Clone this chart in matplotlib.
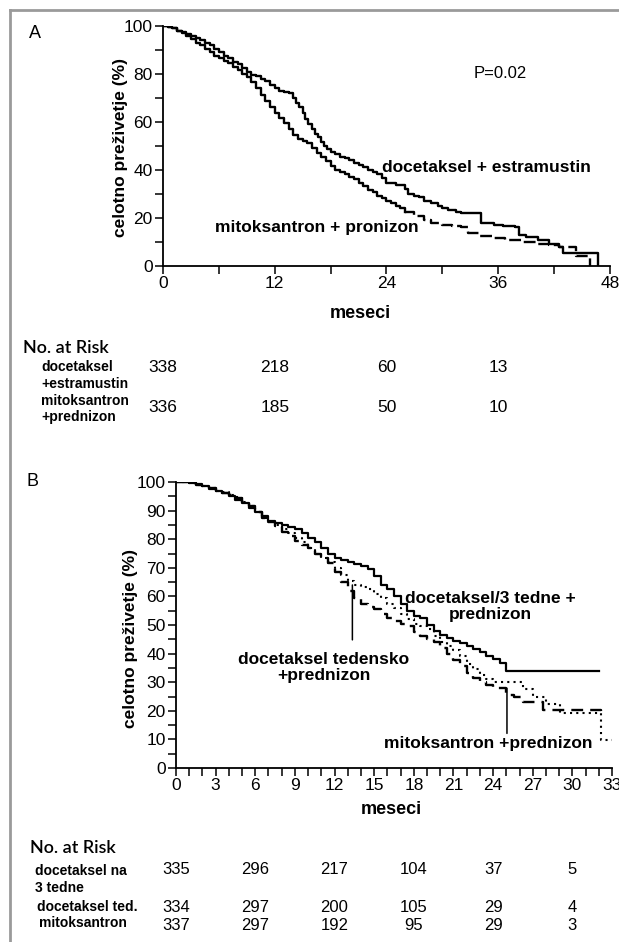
import matplotlib
matplotlib.use('Agg')
import matplotlib.pyplot as plt
import matplotlib.transforms as mtransforms
from matplotlib.lines import Line2D
from matplotlib.ticker import MultipleLocator

# ---- panel A: months and % alive ----
de_t = [0, 0.5, 1, 1.5, 2, 2.5, 3, 3.5, 4, 4.5, 5, 5.5, 6, 6.5, 7, 7.5, 8, 8.5, 9, 9.5,
        10, 10.5, 11, 11.5, 12, 12.5, 13, 13.5, 14, 14.3, 14.6, 15, 15.3, 15.6, 16, 16.3, 16.6, 17, 17.3, 17.6,
        18, 18.5, 19, 19.5, 20, 20.5, 21, 21.5, 22, 22.5, 23, 23.5, 24, 25, 25.5, 26, 26.3, 27, 27.5, 28,
        28.8, 29.5, 30, 30.6, 31.5, 32, 33.1, 34.2, 35.5, 36.5, 37.8, 38.2, 39, 40.3, 41.5, 42.5, 42.9, 46.7]
de_s = [100, 99.5, 99, 98, 97.5, 96.5, 95.8, 95, 94, 93, 92, 90.5, 89, 87.5, 86.5, 85, 84, 82.5, 81, 79.5,
        79, 78, 77, 75.5, 74, 73, 72.5, 72, 70, 68, 66, 63.5, 61, 59, 57, 55, 53.5, 51.5, 50, 48.5,
        47.5, 46.5, 45.5, 45, 44, 43, 42, 41, 40, 39, 38, 36.5, 34.5, 33.8, 33.5, 32, 30, 29, 28.5, 27,
        26, 25, 24, 23, 22.5, 22, 21.8, 17.6, 17, 16.5, 16, 12.7, 12, 10.5, 9, 7.7, 5.2, 0]
mp_t = [0, 0.5, 1, 1.5, 2, 2.5, 3, 3.5, 4, 4.5, 5, 5.5, 6, 6.5, 7, 7.5, 8, 8.5, 9, 9.5,
        10, 10.5, 11, 11.5, 12, 12.5, 13, 13.5, 14, 14.5, 15, 15.5, 16, 16.5, 17, 17.5, 18, 18.5, 19, 19.5,
        20, 20.5, 21, 21.5, 22, 22.5, 23, 23.5, 24, 24.5, 25, 25.5, 26,
        27, 28, 28.8, 30, 31, 32, 32.7, 34, 35.5, 36.7, 38.5, 40.3, 41.5, 42.5, 44.4, 45.8]
mp_s = [100, 99.5, 99, 98, 97, 96, 94.5, 93, 92, 90.5, 89, 87.5, 86.5, 85.5, 84.5, 83, 81.5, 80, 78.5, 76.5,
        74, 71, 68.5, 66, 63.5, 61.5, 59.5, 57, 54.5, 53, 52, 51, 49, 47, 45.5, 43.5, 41.5, 40, 39, 38,
        37, 36, 34.5, 33, 31.5, 30.5, 29, 28, 27, 26, 25, 24, 22.5,
        20.5, 19, 17.8, 17, 16.5, 16, 13.5, 12.5, 11.5, 10.5, 10, 9, 8.5, 7.8, 3.8, 0]
risk_a_months = [0, 12, 24, 36]
risk_a_de = [338, 218, 60, 13]
risk_a_mp = [336, 185, 50, 10]

# ---- panel B ----
q3_t = [0, 0.5, 1, 1.5, 2, 2.5, 3, 3.5, 4, 4.5, 5, 5.5, 6, 6.5, 7, 7.5, 8, 8.5, 9, 9.5,
        10, 10.5, 11, 11.5, 12, 12.5, 13, 13.5, 14, 14.5, 15, 15.5, 16, 16.5, 17, 17.5, 18, 18.5, 19, 19.5,
        20, 20.5, 21, 21.5, 22, 22.5, 23, 23.5, 24, 24.5, 25, 32]
q3_s = [100, 100, 99.6, 99.3, 98.5, 97.6, 96.8, 96, 95, 93.8, 92.5, 91, 89.5, 88, 86.5, 85.5, 85, 84.3, 83.5, 82,
        80.5, 79, 77, 75, 73.5, 72.8, 72, 71.2, 70.5, 69.5, 67, 64, 62.5, 60, 57.5, 55, 53, 52.5, 50, 48,
        46.5, 45.5, 44.5, 43.6, 42.5, 41.5, 40.5, 39, 38, 36.6, 34, 34]
wk_t = [0, 0.5, 1, 1.5, 2, 2.5, 3, 3.5, 4, 4.5, 5, 5.5, 6, 6.5, 7, 7.5, 8, 8.5, 9, 9.5,
        10, 10.5, 11, 11.5, 12, 12.5, 13, 13.5, 14, 14.5, 15, 15.5, 16, 16.5, 17, 17.5, 18, 18.5, 19, 19.5,
        20, 20.5, 21, 21.5, 22, 22.5, 23, 23.5, 24, 26.3, 27, 28, 29.1, 32.2, 33]
wk_s = [100, 100, 99.5, 99, 98.5, 97.8, 97, 96.5, 95.5, 94.8, 93, 91.5, 89.5, 87.5, 86, 84.8, 83.5, 82, 80.5, 79,
        77, 75, 73.5, 72, 70, 67.5, 65.5, 64, 63.2, 62.5, 61, 59.5, 57.5, 56, 54, 52, 50.5, 49.5, 48.5, 46,
        44, 42.5, 41.3, 39, 36.5, 34.5, 32.5, 31, 30.2, 27.5, 25, 22.3, 19.4, 9.8, 9.8]
mx_t = [0, 0.5, 1, 1.5, 2, 2.5, 3, 3.5, 4, 4.5, 5, 5.5, 6, 6.5, 7, 7.5, 8, 8.5, 9, 9.5,
        10, 10.5, 11, 11.5, 12, 12.5, 13, 13.5, 14, 14.5, 15, 15.5, 16, 16.5, 17, 17.5, 18, 18.5, 19, 19.5,
        20, 20.5, 21, 21.5, 22, 22.5, 23, 23.5, 24, 25, 25.6, 26.3, 27.8, 32.2]
mx_s = [100, 100, 99.5, 99, 98.5, 97.8, 97, 96.3, 95.5, 94.5, 93, 91.5, 89.5, 87.5, 86, 84.5, 82.5, 81, 79.5, 78,
        76.8, 75, 73.5, 71.6, 68.5, 65, 62, 59.3, 57.5, 56.3, 55.5, 54, 52.3, 51.5, 50.5, 49.5, 47.5, 46, 45.2, 44,
        42, 40, 37.8, 35.8, 33.1, 31.5, 30.2, 29, 27.9, 25.5, 24.9, 23.1, 20.3, 19.5]
risk_b_months = [0, 6, 12, 18, 24, 30]
risk_b_q3 = [335, 296, 217, 104, 37, 5]
risk_b_wk = [334, 297, 200, 105, 29, 4]
risk_b_mx = [337, 297, 192, 95, 29, 3]

W, H = 619, 942
def fx(x):
    return x / W
def fy(y):
    return 1 - y / H

sans = ['Liberation Sans', 'DejaVu Sans']
risk_font = ['Lato', 'DejaVu Sans']

fig = plt.figure(figsize=(W / 100, H / 100), dpi=100)

# grey frame on left and top
fig.add_artist(Line2D([fx(10), fx(10)], [fy(10), 0], color='#9a9a9a', lw=2))
fig.add_artist(Line2D([fx(10), 1], [fy(10), fy(10)], color='#9a9a9a', lw=2))


def style_axis(ax):
    for s in ['top', 'right']:
        ax.spines[s].set_visible(False)
    for s in ['left', 'bottom']:
        ax.spines[s].set_linewidth(1.3)
    ax.tick_params(which='both', direction='out', length=5.5, width=1.1, labelsize=12.5, pad=2)
    for lab in ax.get_xticklabels() + ax.get_yticklabels():
        lab.set_family(sans)


def bold(x, y, s, **kw):
    kw.setdefault('fontsize', 12.5)
    return fig.text(fx(x), fy(y), s, fontweight='bold', family=sans, **kw)


# ---------------- panel A ----------------
axA = fig.add_axes([fx(163), fy(265.5), fx(610) - fx(163), fy(26) - fy(265.5)])
axA.step(de_t, de_s, where='post', color='black', lw=1.7)
cut = mp_t.index(26)
axA.step(mp_t[:cut + 1], mp_s[:cut + 1], where='post', color='black', lw=1.7)
axA.step(mp_t[cut:], mp_s[cut:], where='post', color='black', lw=1.7, linestyle=(0, (5, 2)))
axA.set_xlim(0, 48)
axA.set_ylim(0, 100)
axA.xaxis.set_major_locator(MultipleLocator(12))
axA.xaxis.set_minor_locator(MultipleLocator(6))
axA.yaxis.set_major_locator(MultipleLocator(20))
axA.yaxis.set_minor_locator(MultipleLocator(10))
style_axis(axA)
axA.text(36.2, 80, 'P=0.02', ha='center', va='center', fontsize=12, family=sans)
axA.text(23.5, 41.1, 'docetaksel + estramustin', ha='left', va='center', fontsize=12.5,
         fontweight='bold', family=sans)
axA.text(5.6, 15.7, 'mitoksantron + pronizon', ha='left', va='center', fontsize=12.5,
         fontweight='bold', family=sans)

fig.text(fx(35), fy(33), 'A', ha='center', va='center', fontsize=13, family=sans)
bold(120, 147.5, 'celotno preživetje (%)', rotation=90, ha='center', va='center')
bold(360, 314, 'meseci', ha='center', va='center', fontsize=13)

fig.text(fx(23), fy(348), 'No. at Risk', ha='left', va='center', fontsize=13, family=risk_font,
         fontweight='semibold')
bold(41, 375.5, 'docetaksel\n+estramustin', ha='left', va='center', fontsize=10, linespacing=1.25)
bold(41, 409, 'mitoksantron\n+prednizon', ha='left', va='center', fontsize=10, linespacing=1.2)
trA = mtransforms.blended_transform_factory(axA.transData, fig.transFigure)
for m, a, b in zip(risk_a_months, risk_a_de, risk_a_mp):
    fig.text(m, fy(368), str(a), transform=trA, ha='center', va='center', fontsize=12.5, family=sans)
    fig.text(m, fy(408), str(b), transform=trA, ha='center', va='center', fontsize=12.5, family=sans)

# ---------------- panel B ----------------
axB = fig.add_axes([fx(176), fy(768), fx(612) - fx(176), fy(482) - fy(768)])
axB.step(q3_t, q3_s, where='post', color='black', lw=1.6)
axB.step(wk_t, wk_s, where='post', color='black', lw=1.5, linestyle=(0, (1, 2)))
axB.step(mx_t, mx_s, where='post', color='black', lw=1.7, linestyle=(0, (5, 3)))
axB.set_xlim(0, 33)
axB.set_ylim(0, 100)
axB.xaxis.set_major_locator(MultipleLocator(3))
axB.xaxis.set_minor_locator(MultipleLocator(1))
axB.yaxis.set_major_locator(MultipleLocator(10))
axB.yaxis.set_minor_locator(MultipleLocator(5))
style_axis(axB)
axB.annotate('', xy=(13.35, 64), xytext=(13.35, 44.8),
             arrowprops=dict(arrowstyle='-', color='black', lw=1.1, shrinkA=0, shrinkB=0))
axB.annotate('', xy=(25.05, 27.9), xytext=(25.05, 12.1),
             arrowprops=dict(arrowstyle='-', color='black', lw=1.1, shrinkA=0, shrinkB=0))
axB.text(23.8, 56.5, 'docetaksel/3 tedne +\nprednizon', ha='center', va='center', fontsize=12.5,
         fontweight='bold', family=sans, linespacing=1.12)
axB.text(11.2, 35.1, 'docetaksel tedensko\n+prednizon', ha='center', va='center', fontsize=12.5,
         fontweight='bold', family=sans, linespacing=1.12)
axB.text(23.6, 8.7, 'mitoksantron +prednizon', ha='center', va='center', fontsize=12.5,
         fontweight='bold', family=sans)

fig.text(fx(32), fy(482), 'B', ha='center', va='center', fontsize=13, family=sans)
bold(130, 638, 'celotno preživetje (%)', rotation=90, ha='center', va='center')
bold(391, 810, 'meseci', ha='center', va='center', fontsize=13)

fig.text(fx(30), fy(848), 'No. at Risk', ha='left', va='center', fontsize=13, family=risk_font,
         fontweight='semibold')
bold(35, 879.5, 'docetaksel na\n3 tedne', ha='left', va='center', fontsize=10, linespacing=1.25)
bold(37, 907, 'docetaksel ted.', ha='left', va='center', fontsize=10)
bold(39, 923, 'mitoksantron', ha='left', va='center', fontsize=10)
trB = mtransforms.blended_transform_factory(axB.transData, fig.transFigure)
for m, a, b, c in zip(risk_b_months, risk_b_q3, risk_b_wk, risk_b_mx):
    fig.text(m, fy(870), str(a), transform=trB, ha='center', va='center', fontsize=12, family=sans)
    fig.text(m, fy(907), str(b), transform=trB, ha='center', va='center', fontsize=12, family=sans)
    fig.text(m, fy(925), str(c), transform=trB, ha='center', va='center', fontsize=12, family=sans)

fig.savefig('out.png', dpi=100)
